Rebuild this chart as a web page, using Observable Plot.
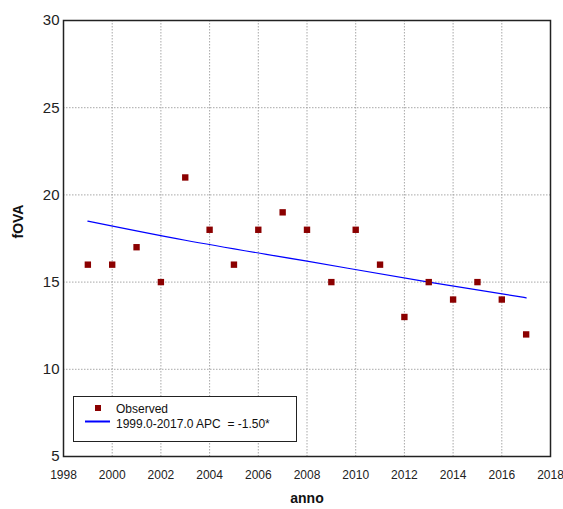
<!DOCTYPE html>
<html><head><meta charset="utf-8">
<script src="https://cdn.jsdelivr.net/npm/d3@7"></script>
<script src="https://cdn.jsdelivr.net/npm/@observablehq/plot@0.6"></script>
<style>
body{margin:0;background:#fff;font-family:"Liberation Sans",Arial,sans-serif;}
#wrap{position:relative;width:563px;height:509px;}
#legend{position:absolute;left:73px;top:396px;width:222px;height:44px;border:1.5px solid #222;background:#fff;font-size:12px;color:#111;}
#legend text{white-space:pre;}
</style></head>
<body><div id="wrap"><div id="chart"></div>
<div id="legend">
<svg width="222" height="44" style="position:absolute;left:0;top:0">
<rect x="21" y="8" width="6" height="6" fill="#8b0000"/>
<line x1="11" y1="24.5" x2="36" y2="24.5" stroke="#0000ff" stroke-width="2"/>
<text x="42" y="16" font-size="12" fill="#111" font-family="Liberation Sans, Arial, sans-serif">Observed</text>
<text x="42" y="31" font-size="12" fill="#111" font-family="Liberation Sans, Arial, sans-serif" xml:space="preserve">1999.0-2017.0 APC  = -1.50*</text>
</svg>
</div></div>
<script>
const years = [1999,2000,2001,2002,2003,2004,2005,2006,2007,2008,2009,2010,2011,2012,2013,2014,2015,2016,2017];
const observed = [16,16,17,15,21,18,16,18,19,18,15,18,16,13,15,14,15,14,12];
const fitYears = [1999,2003,2008,2013,2017];
const fitted = [18.5,17.4,16.2,15.0,14.1];
const xTicks = [1998,2000,2002,2004,2006,2008,2010,2012,2014,2016,2018];
const yTicks = [5,10,15,20,25,30];

const obs = years.map((y,i)=>({year:y, v:observed[i]}));
const fit = fitYears.map((y,i)=>({year:y, v:fitted[i]}));

const chart = Plot.plot({
  width:563, height:509,
  marginLeft:63, marginTop:20, marginRight:13, marginBottom:53,
  style:{fontFamily:"Liberation Sans, Arial, sans-serif", fontSize:"12px", color:"#222", background:"#fff"},
  x:{domain:[1998,2018]},
  y:{domain:[5,30]},
  marks:[
    Plot.gridX(xTicks.slice(1,-1), {stroke:"#999", strokeOpacity:0.85, strokeDasharray:"1.5,1.5"}),
    Plot.gridY(yTicks.slice(1,-1), {stroke:"#999", strokeOpacity:0.85, strokeDasharray:"1.5,1.5"}),
    Plot.axisX(xTicks, {tickSize:0, tickPadding:14, fontSize:12, fill:"#222", label:null, tickFormat:d=>String(d)}),
    Plot.axisY(yTicks, {tickSize:0, tickPadding:4, fontSize:15, fill:"#222", label:null}),
    Plot.text(["anno"], {frameAnchor:"bottom", dy:46, fontWeight:"bold", fontSize:14, fill:"#111"}),
    Plot.text(["fOVA"], {frameAnchor:"left", dx:-45, rotate:-90, fontWeight:"bold", fontSize:14, fill:"#111"}),
    Plot.line(fit, {x:"year", y:"v", stroke:"#0000ff", strokeWidth:1.2, curve:"monotone-x"}),
    Plot.dot(obs, {x:"year", y:"v", symbol:"square", fill:"#8b0000", r:3.6}),
    Plot.frame({stroke:"#222", strokeWidth:1.5})
  ]
});
document.getElementById("chart").appendChild(chart);
</script></body></html>
